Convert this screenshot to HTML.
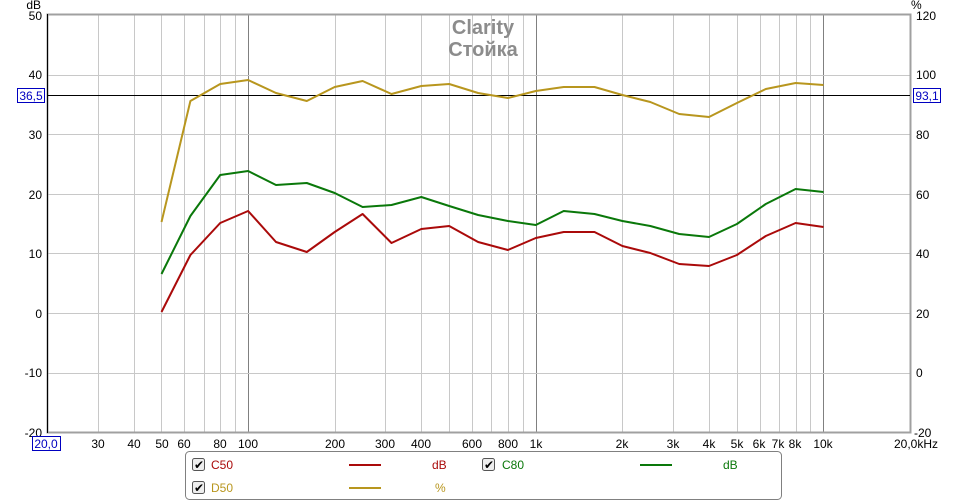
<!DOCTYPE html>
<html><head><meta charset="utf-8"><style>
body{margin:0;background:#fff;}
svg{display:block;font-family:"Liberation Sans","DejaVu Sans",sans-serif;}
</style></head><body>
<svg width="966" height="502" xmlns="http://www.w3.org/2000/svg">
<rect width="966" height="502" fill="#fff"/>
<g id="grid" stroke="#c8c8c8" stroke-width="1">
</g>
<script>
(function(){
var g=document.getElementById('grid');var ns="http://www.w3.org/2000/svg";
function X(f){return 47+287.7*Math.log10(f/20);}
var fs=[30,40,50,60,70,80,90,200,300,400,500,600,700,800,900,2000,3000,4000,5000,6000,7000,8000,9000];
fs.forEach(function(f){var l=document.createElementNS(ns,'line');var x=Math.round(X(f))+0.5;l.setAttribute('x1',x);l.setAttribute('x2',x);l.setAttribute('y1',15);l.setAttribute('y2',432);g.appendChild(l);});
[100,1000,10000].forEach(function(f){var l=document.createElementNS(ns,'line');var x=Math.round(X(f))+0.5;l.setAttribute('x1',x);l.setAttribute('x2',x);l.setAttribute('y1',15);l.setAttribute('y2',432);l.setAttribute('stroke','#808080');g.appendChild(l);});
for(var i=1;i<7;i++){var l=document.createElementNS(ns,'line');var y=Math.round(15+i*59.6)+0.5;l.setAttribute('x1',47);l.setAttribute('x2',910);l.setAttribute('y1',y);l.setAttribute('y2',y);g.appendChild(l);}
})();
</script>
<rect x="47.5" y="14.5" width="863" height="418" fill="none" stroke="#a0a0a0" stroke-width="2"/>
<line x1="47.5" y1="14" x2="47.5" y2="433" stroke="#000"/>
<line x1="47" y1="95.5" x2="910" y2="95.5" stroke="#000"/>
<text x="483" y="34" font-size="20" fill="#8c8c8c" text-anchor="middle" font-weight="bold">Clarity</text>
<text x="483" y="56" font-size="20" fill="#8c8c8c" text-anchor="middle" font-weight="bold">Стойка</text>
<g font-size="12" fill="#000" text-anchor="end">
<text x="41" y="9">dB</text>
<text x="42" y="20">50</text><text x="42" y="79">40</text><text x="42" y="139">30</text><text x="42" y="199">20</text><text x="42" y="258">10</text><text x="42" y="318">0</text><text x="42" y="377">-10</text><text x="42" y="437">-20</text>
</g>
<g font-size="12" fill="#000" text-anchor="start">
<text x="911" y="9">%</text>
<text x="916" y="20">120</text><text x="916" y="79">100</text><text x="916" y="139">80</text><text x="916" y="199">60</text><text x="916" y="258">40</text><text x="916" y="318">20</text><text x="916" y="377">0</text><text x="914" y="437">-20</text>
</g>
<rect x="17.5" y="88.5" width="27" height="14" fill="#fff" stroke="#0000c0"/>
<text x="31" y="100" font-size="12" fill="#0000c0" text-anchor="middle">36,5</text>
<rect x="913.5" y="88.5" width="27" height="14" fill="#fff" stroke="#0000c0"/>
<text x="927" y="100" font-size="12" fill="#0000c0" text-anchor="middle">93,1</text>
<rect x="32.5" y="436.5" width="28" height="14" fill="#fff" stroke="#0000c0"/>
<text x="46" y="448" font-size="12" fill="#0000c0" text-anchor="middle">20,0</text>
<g font-size="12" fill="#000" text-anchor="middle">
<text x="98" y="448">30</text><text x="134" y="448">40</text><text x="162" y="448">50</text><text x="184" y="448">60</text><text x="220" y="448">80</text><text x="248" y="448">100</text><text x="335" y="448">200</text><text x="385" y="448">300</text><text x="421" y="448">400</text><text x="472" y="448">600</text><text x="508" y="448">800</text><text x="536" y="448">1k</text><text x="622" y="448">2k</text><text x="673" y="448">3k</text><text x="709" y="448">4k</text><text x="737" y="448">5k</text><text x="759" y="448">6k</text><text x="778" y="448">7k</text><text x="795" y="448">8k</text><text x="823" y="448">10k</text><text x="916" y="448">20,0kHz</text>
</g>
<g fill="none" stroke-width="2" stroke-linejoin="round">
<polyline id="d50" stroke="#b8961e"/>
<polyline id="c80" stroke="#0a780a"/>
<polyline id="c50" stroke="#aa0a0a"/>
</g>
<script>
(function(){
function X(f){return 47+287.7*Math.log10(f/20);}
var f=[50,63,80,100,125,160,200,250,315,400,500,630,800,1000,1250,1600,2000,2500,3150,4000,5000,6300,8000,10000];
var d=[222,101,84,80,93,101,87,81,94,86,84,93,98,91,87,87,95,102,114,117,103,89,83,85];
var c8=[274,216,175,171,185,183,193,207,205,197,206,215,221,225,211,214,221,226,234,237,224,204,189,192];
var c5=[312,255,223,211,242,252,232,214,243,229,226,242,250,238,232,232,246,253,264,266,255,236,223,227];
function p(id,a){document.getElementById(id).setAttribute('points',a.map(function(v,i){return X(f[i]).toFixed(1)+','+v;}).join(' '));}
p('d50',d);p('c80',c8);p('c50',c5);
})();
</script>
<rect x="185.5" y="451.5" width="596" height="48" rx="4" fill="#fff" stroke="#808080"/>
<g font-size="12">
<rect x="192.5" y="458.5" width="12" height="12" fill="#eee" stroke="#555" rx="2"/><text x="194" y="469" font-size="12">✔</text>
<text x="211" y="469" fill="#aa0a0a">C50</text>
<line x1="349" y1="465" x2="381" y2="465" stroke="#aa0a0a" stroke-width="2"/>
<text x="432" y="469" fill="#aa0a0a">dB</text>
<rect x="192.5" y="481.5" width="12" height="12" fill="#eee" stroke="#555" rx="2"/><text x="194" y="492">✔</text>
<text x="211" y="492" fill="#b8961e">D50</text>
<line x1="349" y1="488" x2="381" y2="488" stroke="#b8961e" stroke-width="2"/>
<text x="435" y="492" fill="#b8961e">%</text>
<rect x="482.5" y="458.5" width="12" height="12" fill="#eee" stroke="#555" rx="2"/><text x="484" y="469">✔</text>
<text x="502" y="469" fill="#0a780a">C80</text>
<line x1="640" y1="465" x2="672" y2="465" stroke="#0a780a" stroke-width="2"/>
<text x="723" y="469" fill="#0a780a">dB</text>
</g>
</svg>
</body></html>
